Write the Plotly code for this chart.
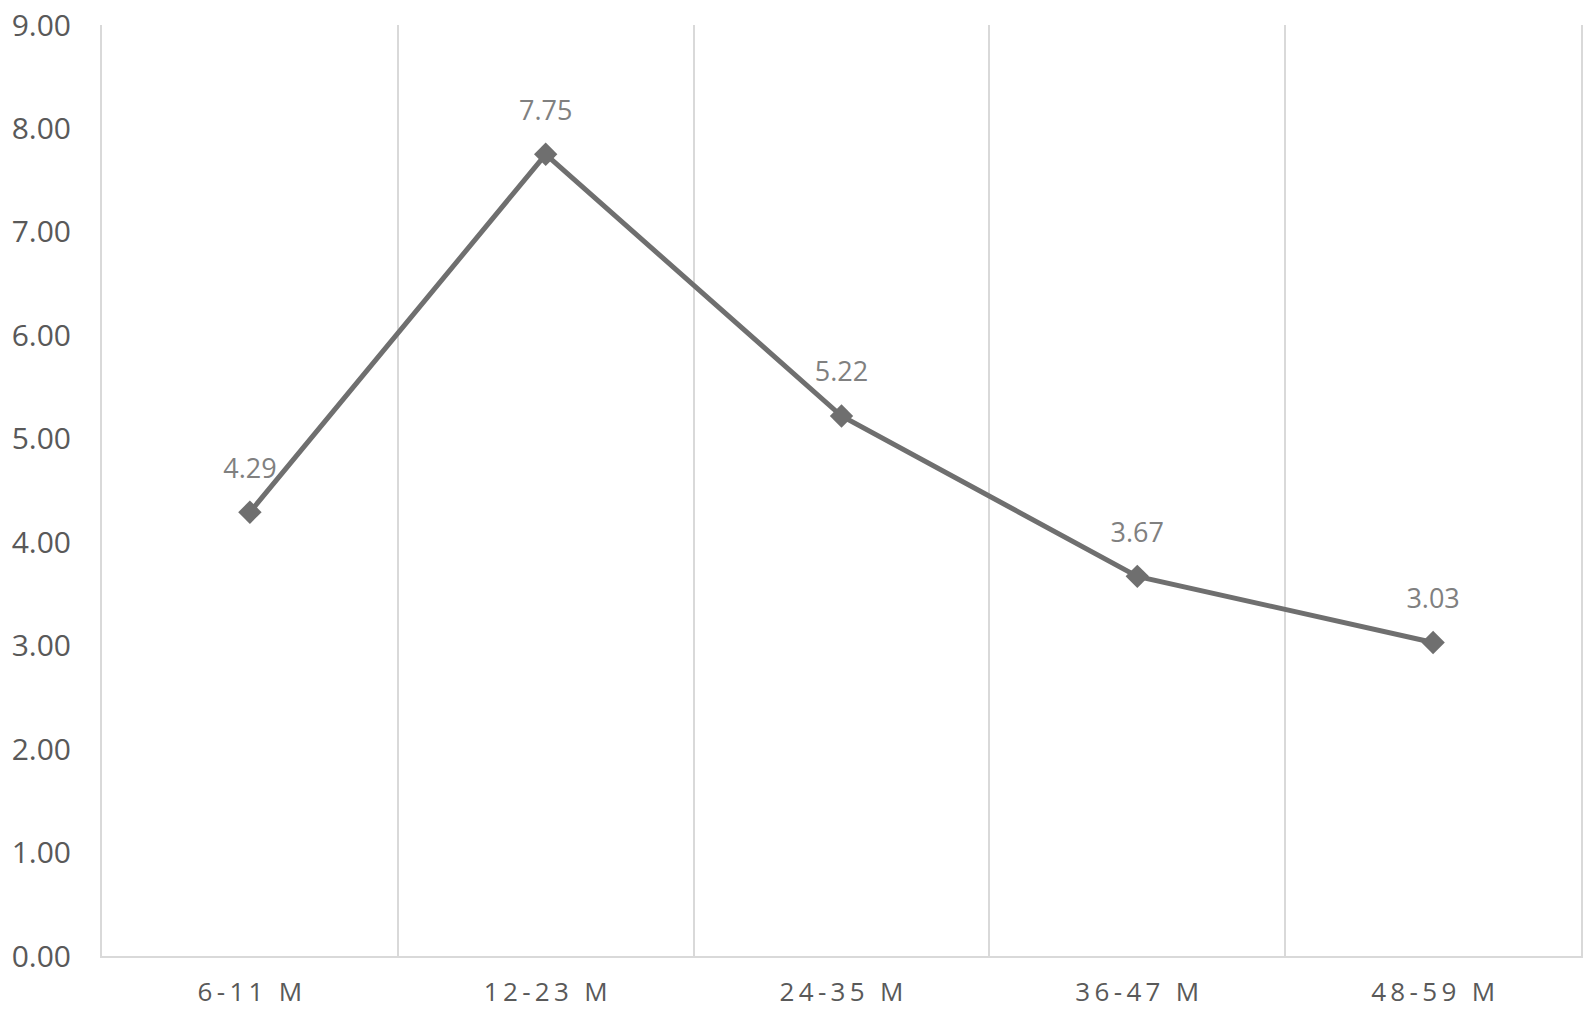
import plotly.graph_objects as go

categories = ["6-11 M", "12-23 M", "24-35 M", "36-47 M", "48-59 M"]
values = [4.29, 7.75, 5.22, 3.67, 3.03]
value_labels = ["4.29", "7.75", "5.22", "3.67", "3.03"]
y_tickvals = [0, 1, 2, 3, 4, 5, 6, 7, 8, 9]

THIN = "\u2009"
spaced = [THIN.join(list(c)) for c in categories]

fig = go.Figure()
fig.add_trace(go.Scatter(
    x=spaced, y=values,
    mode="lines+markers",
    line=dict(color="#6f6f6f", width=5),
    marker=dict(symbol="diamond", size=18, color="#6f6f6f"),
    showlegend=False, hoverinfo="skip",
))
fig.add_trace(go.Scatter(
    x=spaced, y=values,
    mode="markers+text",
    marker=dict(size=43, opacity=0),
    text=value_labels,
    textposition="top center",
    textfont=dict(family="Open Sans", size=27, color="#808080"),
    cliponaxis=False,
    showlegend=False,
))

fig.update_layout(
    width=1579, height=1001,
    margin=dict(l=94, r=6, t=17, b=53),
    paper_bgcolor="white", plot_bgcolor="white",
    font=dict(family="Open Sans", size=27, color="#595959"),
    xaxis=dict(
        type="category",
        tickson="boundaries",
        showgrid=True, gridcolor="#d9d9d9", gridwidth=2,
        showline=True, linecolor="#d9d9d9", linewidth=2,
        ticks="", ticklabelstandoff=12,
        range=[-0.5, 4.5],
        automargin=False,
        ticklabeloverflow="allow",
        tickfont=dict(family="Open Sans", size=26, color="#595959"),
    ),
    yaxis=dict(
        range=[0, 9],
        tickvals=y_tickvals,
        tickformat=".2f",
        showgrid=False, zeroline=False,
        showline=True, linecolor="#d9d9d9", linewidth=2, mirror=True,
        ticks="", ticklabelstandoff=23,
        automargin=False,
        ticklabeloverflow="allow",
        tickfont=dict(family="Open Sans", size=30, color="#595959"),
    ),
)

fig.write_html("out.html")
